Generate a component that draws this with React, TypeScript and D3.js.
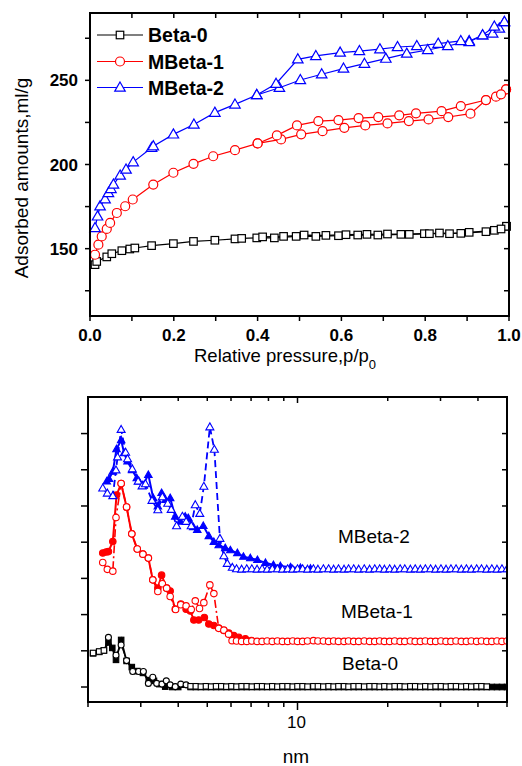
import React from "react";
import * as d3 from "d3";

type Pt = [number, number];
const FONT = "'Liberation Sans', Arial, Helvetica, sans-serif";

// ================= Top chart: N2 isotherms =================
const isoPressureTicks = [0, 0.2, 0.4, 0.6, 0.8, 1.0];
const isoPressureMinor = [0.1, 0.3, 0.5, 0.7, 0.9];
const isoVolumeTicks = [150, 200, 250];
const isoVolumeMinor = [125, 175, 225, 275];

const beta0AdsP = [0.012, 0.016, 0.04, 0.052, 0.076, 0.095, 0.107, 0.147, 0.199, 0.247, 0.298, 0.346, 0.362, 0.398, 0.44, 0.492, 0.539, 0.593, 0.639, 0.687, 0.742, 0.798, 0.858, 0.905, 0.965, 0.994];
const beta0AdsV = [140.5, 142.4, 145.1, 147.0, 148.8, 149.8, 150.4, 151.8, 153.0, 154.3, 155.0, 155.8, 156.1, 156.4, 156.4, 157.3, 157.3, 157.7, 158.1, 158.1, 158.5, 158.9, 158.9, 159.7, 160.9, 163.3];
const beta0DesP = [0.994, 0.981, 0.945, 0.885, 0.834, 0.81, 0.762, 0.71, 0.661, 0.611, 0.563, 0.511, 0.462, 0.412];
const beta0DesV = [163.3, 161.7, 160.1, 159.1, 159.3, 158.9, 158.5, 158.7, 158.5, 158.3, 157.9, 158.1, 157.3, 157.0];

const mbeta1AdsP = [0.012, 0.02, 0.028, 0.04, 0.048, 0.064, 0.084, 0.102, 0.151, 0.199, 0.247, 0.294, 0.346, 0.4, 0.456, 0.504, 0.555, 0.607, 0.657, 0.71, 0.761, 0.808, 0.855, 0.908, 0.945, 0.969, 0.993];
const mbeta1AdsV = [146.4, 152.4, 157.3, 161.7, 165.3, 171.2, 175.2, 179.2, 188.1, 195.1, 200.4, 204.9, 208.5, 212.5, 214.9, 217.9, 219.8, 221.8, 223.2, 224.4, 225.8, 226.8, 228.2, 230.2, 238.3, 240.3, 244.6];
const mbeta1DesP = [0.993, 0.981, 0.945, 0.885, 0.839, 0.778, 0.738, 0.688, 0.641, 0.593, 0.545, 0.494, 0.446, 0.4];
const mbeta1DesV = [244.6, 241.7, 238.3, 234.7, 231.7, 230.4, 229.2, 228.2, 227.6, 226.4, 225.8, 223.2, 217.3, 212.5];

const mbeta2AdsP = [0.012, 0.018, 0.024, 0.036, 0.044, 0.05, 0.056, 0.072, 0.086, 0.103, 0.147, 0.151, 0.199, 0.248, 0.298, 0.346, 0.398, 0.452, 0.502, 0.553, 0.605, 0.655, 0.706, 0.756, 0.806, 0.854, 0.905, 0.937, 0.961, 0.977, 0.989];
const mbeta2AdsV = [162.3, 169.2, 175.2, 179.4, 183.1, 185.5, 188.1, 193.5, 197.0, 201.4, 209.9, 210.9, 217.9, 223.8, 230.8, 235.7, 241.3, 245.6, 250.2, 253.6, 257.0, 259.9, 262.9, 265.9, 268.0, 270.4, 273.4, 276.8, 277.8, 280.8, 284.7];
const mbeta2DesP = [0.989, 0.965, 0.937, 0.905, 0.885, 0.831, 0.78, 0.734, 0.692, 0.643, 0.597, 0.539, 0.496, 0.444, 0.398];
const mbeta2DesV = [284.7, 282.0, 276.8, 272.8, 273.4, 271.8, 270.4, 269.8, 268.5, 267.4, 266.5, 264.5, 262.5, 248.0, 241.3];

const isoNames = ["Beta-0", "MBeta-1", "MBeta-2"];

// ================= Bottom chart: pore size distribution =================
const psdXTicks = [2, 3, 4, 5, 6, 7, 8, 9, 10, 20, 30, 40, 50];
const psdXLabels = [10];
const psdYTicks = [0, 1, 2, 3, 4, 5, 6, 7];
const psdLabels = ["MBeta-2", "MBeta-1", "Beta-0"];

const psdTailNm = [4.4, 4.58, 4.76, 4.95, 5.15, 5.35, 5.57, 5.79, 6.02, 6.26, 6.51, 6.77, 7.04, 7.33, 7.62, 7.92, 8.24, 8.57, 8.91, 9.27, 9.64, 10.0, 10.4, 10.8, 11.3, 11.7, 12.2, 12.7, 13.2, 13.7, 14.3, 14.8, 15.4, 16.0, 16.7, 17.4, 18.1, 18.8, 19.5, 20.3, 21.1, 22.0, 22.8, 23.8, 24.7, 25.7, 26.7, 27.8, 28.9, 30.1, 31.3, 32.5, 33.8, 35.2, 36.6, 38.0, 39.6, 41.1, 42.8, 44.5, 46.3, 48.1, 50.0];

const mbeta2Filled: Pt[] = [[2.31, 5.68], [2.35, 5.75], [2.42, 5.95], [2.49, 6.57], [2.58, 6.82], [2.64, 6.46], [2.71, 6.23], [2.81, 5.99], [2.91, 5.77], [2.96, 5.68], [3.05, 5.58], [3.18, 5.86], [3.3, 5.22], [3.42, 4.99], [3.52, 5.36], [3.63, 5.17], [3.76, 5.22], [3.91, 4.71], [4.06, 4.57], [4.22, 4.71], [4.32, 4.67], [4.49, 4.42], [4.63, 4.34], [4.85, 4.45], [5.06, 4.17], [5.26, 4.01], [5.46, 3.92], [5.74, 3.84], [5.97, 3.78], [6.3, 3.7], [6.6, 3.6], [6.96, 3.56], [7.35, 3.51], [7.82, 3.43], [8.31, 3.37], [8.77, 3.34], [9.48, 3.31], [10.23, 3.29], [11.05, 3.27]];
const mbeta2OpenHead: Pt[] = [[2.24, 5.49], [2.32, 5.35], [2.42, 5.28], [2.48, 5.99], [2.51, 6.35], [2.58, 7.11], [2.67, 6.48], [2.71, 6.3], [2.81, 6.02], [2.94, 5.68], [3.03, 5.55], [3.11, 5.61], [3.27, 5.15], [3.42, 4.89], [3.54, 5.25], [3.69, 5.07], [3.79, 4.9], [3.95, 4.45], [4.13, 4.71], [4.25, 4.57], [4.42, 4.45], [4.56, 5.03], [4.72, 4.79], [4.87, 5.54], [5.1, 7.18], [5.28, 6.56], [5.51, 4.1], [5.68, 3.62], [5.83, 3.41], [6.06, 3.3]];
const mbeta2OpenTail = [3.26, 3.25, 3.26, 3.26, 3.25, 3.26, 3.25, 3.26, 3.26, 3.25, 3.26, 3.25, 3.26, 3.26, 3.25, 3.26, 3.25, 3.26, 3.26, 3.25, 3.26, 3.25, 3.26, 3.26, 3.25, 3.26, 3.25, 3.26, 3.26, 3.25, 3.26, 3.25, 3.26, 3.26, 3.25, 3.26, 3.25, 3.26, 3.26, 3.25, 3.26, 3.25, 3.26, 3.26, 3.25, 3.26, 3.25, 3.26, 3.26, 3.25, 3.26, 3.25, 3.26, 3.26];

const mbeta1Filled: Pt[] = [[2.24, 3.7], [2.3, 3.73], [2.34, 3.74], [2.42, 4.02], [2.49, 5.3], [2.58, 5.62], [2.69, 4.97], [2.8, 4.23], [2.92, 3.81], [3.05, 3.67], [3.18, 3.56], [3.29, 2.96], [3.42, 2.73], [3.52, 3.09], [3.66, 2.73], [3.76, 2.65], [3.91, 2.15], [4.08, 2.29], [4.25, 2.15], [4.39, 2.1], [4.51, 1.85], [4.68, 1.85], [4.89, 1.92], [5.06, 1.74], [5.26, 1.7], [5.46, 1.63], [5.68, 1.56], [5.9, 1.49], [6.13, 1.42], [6.37, 1.37], [6.7, 1.33], [7.02, 1.28]];
const mbeta1OpenHead: Pt[] = [[2.24, 3.44], [2.32, 3.25], [2.42, 3.2], [2.48, 4.68], [2.58, 5.62], [2.69, 4.97], [2.8, 4.23], [2.92, 3.81], [3.05, 3.67], [3.18, 3.56], [3.29, 2.96], [3.42, 2.64], [3.54, 2.85], [3.66, 2.73], [3.76, 2.5], [3.92, 2.14], [4.08, 2.27], [4.25, 2.24], [4.42, 2.14], [4.56, 2.38], [4.71, 2.17], [4.87, 2.33], [5.1, 2.82], [5.26, 2.58], [5.46, 1.62], [5.68, 1.57], [5.89, 1.46], [6.05, 1.28]];
const mbeta1OpenTail = [1.27, 1.26, 1.26, 1.27, 1.26, 1.26, 1.27, 1.26, 1.27, 1.26, 1.26, 1.27, 1.26, 1.26, 1.27, 1.28, 1.27, 1.27, 1.26, 1.27, 1.26, 1.26, 1.27, 1.26, 1.26, 1.27, 1.26, 1.26, 1.27, 1.26, 1.26, 1.27, 1.26, 1.26, 1.27, 1.26, 1.26, 1.27, 1.26, 1.26, 1.27, 1.26, 1.26, 1.27, 1.26, 1.26, 1.27, 1.26, 1.27, 1.26, 1.26, 1.27, 1.26, 1.27];

const beta0FilledHead: Pt[] = [[2.08, 0.93], [2.18, 0.97], [2.26, 1.01], [2.34, 1.23], [2.41, 1.08], [2.48, 0.75], [2.58, 1.3], [2.69, 0.72], [2.8, 0.55], [2.92, 0.44], [3.05, 0.39], [3.19, 0.19], [3.32, 0.17], [3.46, 0.08], [3.62, 0.01], [3.82, 0.0], [4.0, 0.0]];
const beta0FilledTail = [0, 0, 0, 0, 0, 0, 0, 0, 0, 0, 0, 0, 0, 0, 0, 0, 0, 0, 0, 0, 0, 0, 0, 0, 0, 0, 0, 0, 0, 0, 0, 0, 0, 0, 0, 0, 0, 0, 0, 0, 0, 0, 0, 0, 0, 0, 0, 0, 0, 0, 0, 0, 0, 0, 0, 0, 0, 0, 0, 0, 0, 0, 0];
const beta0OpenHead: Pt[] = [[2.08, 0.94], [2.18, 0.98], [2.26, 1.01], [2.34, 1.37], [2.48, 0.88], [2.58, 1.16], [2.69, 0.73], [2.82, 0.43], [2.95, 0.43], [3.06, 0.43], [3.18, 0.1], [3.29, 0.27], [3.39, 0.1], [3.53, 0.08], [3.65, 0.17], [3.76, 0.06], [3.91, 0.01], [4.08, 0.08], [4.25, 0.06]];
const beta0OpenTail = [0.02, 0.02, 0.01, 0.02, 0.01, 0.02, 0.02, 0.01, 0.02, 0.01, 0.02, 0.02, 0.01, 0.02, 0.02, 0.01, 0.02, 0.01, 0.02, 0.02, 0.01, 0.02, 0.02, 0.01, 0.02, 0.02, 0.01, 0.02, 0.01, 0.02, 0.02, 0.01, 0.02, 0.02, 0.01, 0.02, 0.02, 0.01, 0.02, 0.01, 0.02, 0.02, 0.01, 0.02, 0.02, 0.01, 0.02, 0.01, 0.02, 0.02, 0.01, 0.02, 0.02, 0.01, 0.02, 0.01, 0.02, 0.02, 0.01];

// ---------------- helpers ----------------
const zip = (xs: number[], ys: number[]): Pt[] => xs.map((x, i) => [x, ys[i]] as Pt);
const withTail = (head: Pt[], start: number, vals: number[]): Pt[] =>
  head.concat(vals.map((v, i) => [psdTailNm[start + i], v] as Pt));

type Shape = "square" | "circle" | "triangle";

function Marker(props: { shape: Shape; x: number; y: number; size: number; stroke: string; fill: string; sw: number }) {
  const { shape, x, y, size, stroke, fill, sw } = props;
  if (shape === "square")
    return <rect x={x - size / 2} y={y - size / 2} width={size} height={size} fill={fill} stroke={stroke} strokeWidth={sw} />;
  if (shape === "circle") return <circle cx={x} cy={y} r={size / 2} fill={fill} stroke={stroke} strokeWidth={sw} />;
  const h = size * 0.87;
  return (
    <path
      d={`M${x},${y - h * 0.6}L${x + size / 2},${y + h * 0.4}L${x - size / 2},${y + h * 0.4}Z`}
      fill={fill}
      stroke={stroke}
      strokeWidth={sw}
      strokeLinejoin="miter"
    />
  );
}

// ---------------- Top chart ----------------
function IsothermChart() {
  const L = 90, R = 509, T = 13, B = 316;
  const x = d3.scaleLinear().domain([0, 1]).range([L, R]);
  const y = d3.scaleLinear().domain([110, 290]).range([B, T]);
  const line = d3.line<Pt>().x((d) => x(d[0])).y((d) => y(d[1]));

  const series = [
    { name: isoNames[0], color: "#000000", shape: "square" as Shape, size: 7.5, branches: [zip(beta0AdsP, beta0AdsV), zip(beta0DesP, beta0DesV)] },
    { name: isoNames[1], color: "#ff0000", shape: "circle" as Shape, size: 9, branches: [zip(mbeta1AdsP, mbeta1AdsV), zip(mbeta1DesP, mbeta1DesV)] },
    { name: isoNames[2], color: "#0000ff", shape: "triangle" as Shape, size: 10.5, branches: [zip(mbeta2AdsP, mbeta2AdsV), zip(mbeta2DesP, mbeta2DesV)] },
  ];
  const legendY = [35, 61.5, 87.5];

  return (
    <g>
      {series.map((s) => (
        <g key={s.name}>
          {s.branches.map((b, i) => (
            <path key={i} d={line(b) || ""} fill="none" stroke={s.color} strokeWidth={1.2} />
          ))}
          {s.branches.map((b, i) =>
            b.map((d, j) => (
              <Marker key={i + "-" + j} shape={s.shape} x={x(d[0])} y={y(d[1])} size={s.size} stroke={s.color} fill="#ffffff" sw={1.2} />
            ))
          )}
        </g>
      ))}
      {/* legend */}
      {series.map((s, i) => (
        <g key={"lg" + s.name}>
          <line x1={97} x2={143} y1={legendY[i]} y2={legendY[i]} stroke={s.color} strokeWidth={1.2} />
          <Marker shape={s.shape} x={120} y={legendY[i]} size={s.size} stroke={s.color} fill="#ffffff" sw={1.2} />
          <text x={148} y={legendY[i] + 7} fontSize={19.5} fontWeight="bold" fill="#000">
            {s.name}
          </text>
        </g>
      ))}
      {/* frame */}
      <rect x={L} y={T} width={R - L} height={B - T} fill="none" stroke="#000" strokeWidth={2} />
      {/* x ticks */}
      {isoPressureTicks.concat(isoPressureMinor).map((t) => (
        <g key={"xt" + t}>
          <line x1={x(t)} x2={x(t)} y1={B} y2={B + 5} stroke="#000" strokeWidth={1.5} />
          <line x1={x(t)} x2={x(t)} y1={T} y2={T + 5} stroke="#000" strokeWidth={1.5} />
        </g>
      ))}
      {isoPressureTicks.map((t) => (
        <text key={"xl" + t} x={x(t)} y={341} fontSize={17} fontWeight="bold" textAnchor="middle">
          {d3.format(".1f")(t)}
        </text>
      ))}
      {/* y ticks */}
      {isoVolumeTicks.concat(isoVolumeMinor).map((t) => (
        <g key={"yt" + t}>
          <line x1={L - 5} x2={L} y1={y(t)} y2={y(t)} stroke="#000" strokeWidth={1.5} />
          <line x1={R - 5} x2={R} y1={y(t)} y2={y(t)} stroke="#000" strokeWidth={1.5} />
        </g>
      ))}
      {isoVolumeTicks.map((t) => (
        <text key={"yl" + t} x={78} y={y(t) + 6} fontSize={17} fontWeight="bold" textAnchor="end">
          {t}
        </text>
      ))}
      <text transform="translate(28,178) rotate(-90)" textAnchor="middle" fontSize={19}>
        Adsorbed amounts,ml/g
      </text>
      <text x={194} y={362} fontSize={18.5}>
        Relative pressure,p/p
        <tspan fontSize={13} dy={7}>
          0
        </tspan>
      </text>
    </g>
  );
}

// ---------------- Bottom chart ----------------
function PoreChart() {
  const L = 88, R = 507, T = 397, B = 702;
  const x = d3.scaleLog().domain([2, 50]).range([L, R]);
  const y = d3.scaleLinear().domain([-0.414, 8.01]).range([B, T]);
  const line = d3.line<Pt>().x((d) => x(d[0])).y((d) => y(d[1]));

  const beta0Filled = withTail(beta0FilledHead, 0, beta0FilledTail);
  const beta0Open = withTail(beta0OpenHead, 0, beta0OpenTail);
  const mbeta1Open = withTail(mbeta1OpenHead, 9, mbeta1OpenTail);
  const mbeta2Open = withTail(mbeta2OpenHead, 9, mbeta2OpenTail);

  const series = [
    { key: "b0f", data: beta0Filled, color: "#000", dash: "", lw: 1.8, shape: "square" as Shape, size: 5.5, fill: "#000", sqTail: false },
    { key: "b0o", data: beta0Open, color: "#000", dash: "", lw: 1, shape: "circle" as Shape, size: 6, fill: "#fff", sqTail: true },
    { key: "m1f", data: mbeta1Filled, color: "#ff0000", dash: "", lw: 2, shape: "circle" as Shape, size: 6.5, fill: "#ff0000", sqTail: false },
    { key: "m1o", data: mbeta1Open, color: "#ff0000", dash: "8,3,2,3", lw: 1.6, shape: "circle" as Shape, size: 6.5, fill: "#fff", sqTail: false },
    { key: "m2f", data: mbeta2Filled, color: "#0000ff", dash: "", lw: 2, shape: "triangle" as Shape, size: 7.5, fill: "#0000ff", sqTail: false },
    { key: "m2o", data: mbeta2Open, color: "#0000ff", dash: "7,4", lw: 1.8, shape: "triangle" as Shape, size: 8, fill: "#fff", sqTail: false },
  ];

  return (
    <g>
      <defs>
        <clipPath id="psdClip">
          <rect x={L} y={T} width={R - L} height={B - T} />
        </clipPath>
      </defs>
      <g clipPath="url(#psdClip)">
        {series.map((s) => (
          <g key={s.key}>
            <path d={line(s.data) || ""} fill="none" stroke={s.color} strokeWidth={s.lw} strokeDasharray={s.dash || undefined} />
            {s.data.map((d, j) => {
              const shp: Shape = s.sqTail && (d[0] < 2.3 || d[0] >= 4.4) ? "square" : s.shape;
              return (
                <Marker key={j} shape={shp} x={x(d[0])} y={y(d[1])} size={shp !== s.shape ? 5.5 : s.size} stroke={s.color} fill={s.fill} sw={1.1} />
              );
            })}
          </g>
        ))}
      </g>
      {/* frame */}
      <rect x={L} y={T} width={R - L} height={B - T} fill="none" stroke="#000" strokeWidth={2} />
      {psdXTicks.map((t) => {
        const major = psdXLabels.includes(t);
        return (
          <g key={"px" + t}>
            <line x1={x(t)} x2={x(t)} y1={B} y2={B + (major ? 8 : 5)} stroke="#000" strokeWidth={1.5} />
            <line x1={x(t)} x2={x(t)} y1={T} y2={T + (major ? 6 : 4)} stroke="#000" strokeWidth={1.5} />
          </g>
        );
      })}
      {psdXLabels.map((t) => (
        <text key={"pl" + t} x={x(t) - 1} y={728} fontSize={17} textAnchor="middle">
          {t}
        </text>
      ))}
      {psdYTicks.map((t) => (
        <g key={"py" + t}>
          <line x1={L - 7} x2={L} y1={y(t)} y2={y(t)} stroke="#000" strokeWidth={1.5} />
          <line x1={R - 5} x2={R} y1={y(t)} y2={y(t)} stroke="#000" strokeWidth={1.5} />
        </g>
      ))}
      <text x={338} y={543} fontSize={19}>
        {psdLabels[0]}
      </text>
      <text x={341} y={618} fontSize={19}>
        {psdLabels[1]}
      </text>
      <text x={342} y={670} fontSize={19}>
        {psdLabels[2]}
      </text>
      <text x={296} y={763} fontSize={19} textAnchor="middle">
        nm
      </text>
    </g>
  );
}

export default function App() {
  return (
    <svg width={522} height={766} style={{ position: "absolute", left: 0, top: 0, background: "#fff" }} fontFamily={FONT}>
      <rect width={522} height={766} fill="#fff" />
      <IsothermChart />
      <PoreChart />
    </svg>
  );
}
